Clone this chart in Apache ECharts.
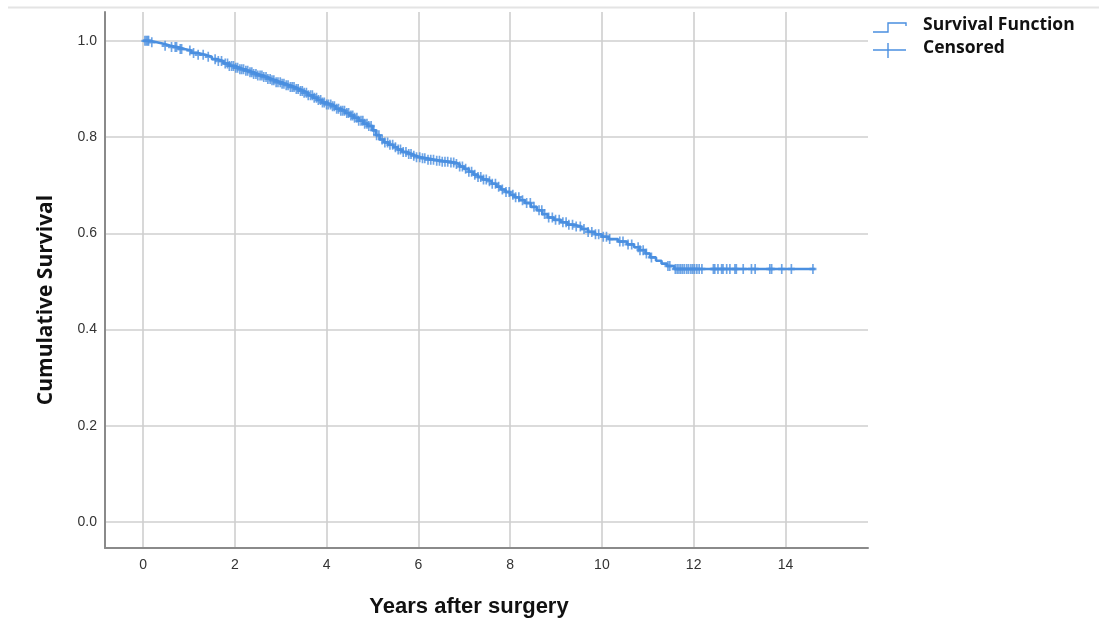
<!DOCTYPE html>
<html>
<head>
<meta charset="utf-8">
<script src="https://cdn.jsdelivr.net/npm/echarts@6/dist/echarts.min.js"></script>
<style>
  html, body { margin: 0; padding: 0; background: #ffffff; }
  #chart { width: 1099px; height: 628px; }
</style>
</head>
<body>
<div id="chart"></div>
<script>
// Kaplan-Meier estimate: event times (years) and survival after each step
const kmTime = [
  0.00, 0.15, 0.30, 0.45, 0.60, 0.75, 0.90, 1.05, 1.20, 1.35, 1.50, 1.62, 1.75, 1.88,
  2.00, 2.10, 2.20, 2.30, 2.40, 2.50, 2.60, 2.70, 2.80, 2.90,
  3.00, 3.10, 3.20, 3.30, 3.40, 3.50, 3.60, 3.70, 3.80, 3.90,
  4.00, 4.10, 4.20, 4.30, 4.40, 4.50, 4.60, 4.70, 4.80, 4.90,
  5.00, 5.08, 5.16, 5.25, 5.35, 5.45, 5.55, 5.65, 5.75, 5.85, 5.95,
  6.05, 6.20, 6.35, 6.50, 6.65, 6.80, 6.90,
  7.00, 7.10, 7.20, 7.30, 7.40, 7.50, 7.60, 7.70, 7.80, 7.90,
  8.00, 8.10, 8.20, 8.32, 8.45, 8.58, 8.70, 8.82, 8.95,
  9.10, 9.25, 9.40, 9.55, 9.70, 9.85,
  10.00, 10.15, 10.35, 10.55, 10.70, 10.82, 10.95,
  11.05, 11.18, 11.30, 11.42, 11.58, 14.64
];
const kmSurv = [
  1.000, 0.997, 0.994, 0.990, 0.987, 0.983, 0.980, 0.975, 0.971, 0.967, 0.962, 0.958, 0.953, 0.948,
  0.944, 0.941, 0.938, 0.935, 0.931, 0.928, 0.925, 0.921, 0.918, 0.914,
  0.911, 0.908, 0.904, 0.900, 0.896, 0.892, 0.887, 0.882, 0.877, 0.872,
  0.868, 0.864, 0.859, 0.855, 0.850, 0.845, 0.840, 0.834, 0.828, 0.823,
  0.814, 0.804, 0.795, 0.789, 0.784, 0.779, 0.774, 0.769, 0.765, 0.761, 0.758,
  0.756, 0.753, 0.751, 0.749, 0.747, 0.744, 0.739,
  0.734, 0.728, 0.722, 0.717, 0.712, 0.708, 0.703, 0.697, 0.691, 0.686,
  0.680, 0.675, 0.669, 0.663, 0.655, 0.648, 0.640, 0.633, 0.628,
  0.623, 0.618, 0.614, 0.609, 0.603, 0.598,
  0.593, 0.588, 0.583, 0.577, 0.571, 0.565, 0.558,
  0.550, 0.543, 0.537, 0.532, 0.526, 0.526
];

// Censored follow-up times (years)
const censorTime = [
  0.04, 0.07, 0.10, 0.12, 0.19, 0.48, 0.62, 0.70, 0.73, 0.81, 0.84, 1.02, 1.10, 1.20,
  1.31, 1.42, 1.57, 1.64, 1.71, 1.79, 1.84, 1.88, 1.93, 1.97, 2.02, 2.06, 2.11, 2.15,
  2.19, 2.24, 2.28, 2.33, 2.37, 2.41, 2.46, 2.50, 2.55, 2.59, 2.63, 2.68, 2.72, 2.77,
  2.81, 2.85, 2.90, 2.94, 2.99, 3.03, 3.07, 3.12, 3.16, 3.21, 3.25, 3.29, 3.34, 3.38,
  3.43, 3.47, 3.51, 3.56, 3.60, 3.65, 3.69, 3.73, 3.78, 3.82, 3.87, 3.91, 3.95, 4.00,
  4.04, 4.09, 4.13, 4.17, 4.22, 4.26, 4.31, 4.35, 4.39, 4.44, 4.48, 4.53, 4.57, 4.61,
  4.66, 4.70, 4.75, 4.79, 4.83, 4.88, 4.92, 4.97, 5.03, 5.09, 5.14, 5.21, 5.27, 5.33,
  5.38, 5.44, 5.50, 5.56, 5.61, 5.67, 5.73, 5.79, 5.84, 5.90, 5.96, 6.03, 6.09, 6.14,
  6.21, 6.27, 6.33, 6.40, 6.46, 6.52, 6.58, 6.64, 6.71, 6.77, 6.83, 6.90, 6.96, 7.03,
  7.10, 7.16, 7.23, 7.30, 7.36, 7.42, 7.48, 7.55, 7.61, 7.68, 7.75, 7.83, 7.91, 7.98,
  8.06, 8.12, 8.19, 8.27, 8.36, 8.44, 8.52, 8.63, 8.69, 8.75, 8.84, 8.92, 8.99, 9.07,
  9.15, 9.22, 9.28, 9.36, 9.44, 9.53, 9.61, 9.70, 9.78, 9.86, 9.93,
  10.03, 10.10, 10.17, 10.39, 10.46, 10.57, 10.65, 10.79, 10.83, 10.90, 10.97, 11.08,
  11.44, 11.48, 11.60, 11.64, 11.68, 11.72, 11.76, 11.80, 11.85, 11.89, 11.94, 11.98,
  12.02, 12.07, 12.12, 12.18, 12.43, 12.46, 12.53, 12.61, 12.64, 12.72, 12.79, 12.90,
  12.93, 13.08, 13.26, 13.34, 13.66, 13.70, 13.92, 14.13, 14.60
];

const xTitle = 'Years after surgery';
const yTitle = 'Cumulative Survival';
const legendNames = ['Survival Function', 'Censored'];

const blue = '#4A8FE0';

// survival value in effect at time t (right-continuous step function)
function survivalAt(t) {
  let s = kmSurv[0];
  for (let i = 0; i < kmTime.length; i++) {
    if (kmTime[i] <= t) s = kmSurv[i];
  }
  return s;
}

const curveData = kmTime.map((t, i) => [t, kmSurv[i]]);
const censorData = censorTime.map(t => [t, survivalAt(t)]);

const chart = echarts.init(document.getElementById('chart'), null, { renderer: 'canvas' });

const tickFont = { color: '#333333', fontSize: 14, fontFamily: 'Liberation Sans, Arial, sans-serif' };

chart.setOption({
  animation: false,
  backgroundColor: '#ffffff',
  grid: { left: 105, right: 231, top: 12, bottom: 80, containLabel: false },
  xAxis: {
    type: 'value',
    min: -0.83,
    max: 15.8,
    splitNumber: 8,
    axisLine: { show: true, onZero: false, lineStyle: { color: '#8a8a8a', width: 2 } },
    axisTick: { show: false },
    axisLabel: Object.assign({ showMinLabel: false, showMaxLabel: false, margin: 10 }, tickFont),
    splitLine: { show: true, showMinLine: false, showMaxLine: false, lineStyle: { color: '#cfcfcf', width: 1.6 } }
  },
  yAxis: {
    type: 'value',
    min: -0.054,
    max: 1.06,
    splitNumber: 5,
    axisLine: { show: true, onZero: false, lineStyle: { color: '#8a8a8a', width: 2 } },
    axisTick: { show: false },
    axisLabel: Object.assign({
      showMinLabel: false, showMaxLabel: false, margin: 8,
      formatter: v => v.toFixed(1)
    }, tickFont),
    splitLine: { show: true, showMinLine: false, showMaxLine: false, lineStyle: { color: '#cfcfcf', width: 1.6 } }
  },
  series: [
    {
      name: legendNames[0],
      type: 'line',
      step: 'end',
      data: curveData,
      showSymbol: false,
      lineStyle: { color: blue, width: 2.6 },
      z: 3
    },
    {
      name: legendNames[1],
      type: 'scatter',
      data: censorData,
      symbol: 'path://M3.5,0L3.5,10M0,5L7,5',
      symbolSize: [7, 10],
      itemStyle: { color: 'none', borderColor: blue, borderWidth: 2 },
      z: 4
    }
  ],
  graphic: [
    // thin rule across the top of the figure
    { type: 'line', shape: { x1: 8, y1: 7.5, x2: 1099, y2: 7.5 }, style: { stroke: '#e4e4e4', lineWidth: 2 } },
    // legend: step icon
    { type: 'polyline', shape: { points: [[873, 32], [888, 32], [888, 23], [906, 23], [906, 26]] },
      style: { stroke: blue, lineWidth: 1.4, fill: null } },
    { type: 'text', left: 923, top: 16, style: { text: legendNames[0], font: 'bold 17.5px "Open Sans", "Noto Sans", sans-serif', fill: '#111111' } },
    // legend: censored icon
    { type: 'line', shape: { x1: 873, y1: 50, x2: 906, y2: 50 }, style: { stroke: blue, lineWidth: 1.4 } },
    { type: 'line', shape: { x1: 888, y1: 43, x2: 888, y2: 58 }, style: { stroke: blue, lineWidth: 1.4 } },
    { type: 'text', left: 923, top: 39, style: { text: legendNames[1], font: 'bold 17.5px "Open Sans", "Noto Sans", sans-serif', fill: '#111111' } },
    // axis titles
    { type: 'text', x: 469, y: 607, style: { text: xTitle, font: 'bold 22px "Liberation Sans", Arial, sans-serif', fill: '#111111', align: 'center', verticalAlign: 'middle' } },
    { type: 'text', x: 46, y: 300, rotation: Math.PI / 2, style: { text: yTitle, font: 'bold 21px "Open Sans", "Noto Sans", sans-serif', fill: '#111111', align: 'center', verticalAlign: 'middle' } }
  ]
});
</script>
</body>
</html>
